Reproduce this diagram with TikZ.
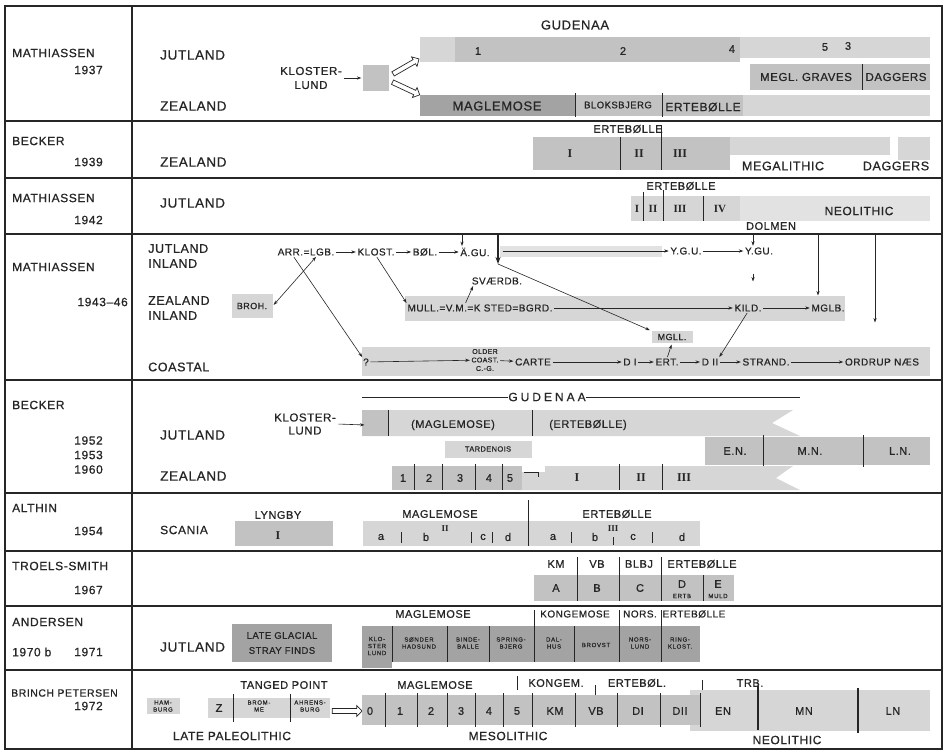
\documentclass[tikz,border=0pt]{standalone}
\usepackage{fontspec}
\usepackage{graphicx}
\setmainfont{Liberation Sans}[LetterSpace=5, FakeBold=0.7]
\newfontfamily\romf{Liberation Serif}
\usetikzlibrary{arrows.meta,calc,shapes.arrows}
\definecolor{ga}{gray}{0.84}
\definecolor{gb}{gray}{0.76}
\definecolor{gc}{gray}{0.64}
\definecolor{ink}{gray}{0.15}
\newcommand{\fsz}[2]{\fontsize{#1}{#2}\selectfont}
\tikzset{
 tx/.style={inner sep=0pt, text=ink},
 nm/.style={tx, font=\fsz{12}{14}},
 rl/.style={tx, font=\fsz{13.5}{15}},
 bl/.style={tx, font=\fsz{12}{14}},
 md/.style={tx, font=\fsz{11}{13}},
 sm/.style={tx, font=\fsz{10}{12}},
 xs/.style={tx, font=\fsz{7}{8.5}, align=center},
 tn/.style={tx, font=\fsz{6}{7}\addfontfeatures{LetterSpace=12}, align=center},
 rn/.style={tx, font=\romf\bfseries\fsz{12}{14}},
 ar/.style={-{Stealth[length=4.5pt,width=3.2pt]}, draw=ink, line width=0.6pt, shorten >=1.5pt, shorten <=1.5pt},
 bigar/.style={-{Stealth[length=7pt,width=5pt]}, draw=ink, line width=1.1pt},
 dv/.style={draw=ink, line width=1pt},
 boxline/.style={draw=ink, line width=1.3pt},
 hol/.style={single arrow, draw=ink, fill=white, line width=0.7pt, minimum height=30pt, minimum width=11pt, single arrow head extend=2.5pt, inner sep=1.6pt},
}
\begin{document}
\begin{tikzpicture}[x=1pt,y=-1pt]
\useasboundingbox (0,0) rectangle (947,752);
\fill[white] (0,0) rectangle (947,752);

% ================= Row 1: Mathiassen 1937
\fill[ga] (420,37) rectangle (455,62);
\fill[gb] (455,37) rectangle (740,62);
\fill[ga] (740,37) rectangle (930,58);
\fill[gb] (750,64) rectangle (930,90);
\fill[gc] (420,95) rectangle (575,116);
\fill[gb] (575,95) rectangle (743,116);
\fill[ga] (743,95) rectangle (930,116);
\draw[dv] (862,64) -- (862,90);
\draw[dv] (575,93) -- (575,117);
\draw[dv] (662,93) -- (662,117);
\node[nm,anchor=west] (n1) at (12,53) {MATHIASSEN};
\node[nm,anchor=east] (y1) at (103,70) {1937};
\node[rl,anchor=west] (r1a) at (160,55) {JUTLAND};
\node[rl,anchor=west] (r1b) at (160,106) {ZEALAND};
\node[md,align=center,font=\fsz{11.5}{14}] (kl1) at (311,78) {KLOSTER-\\LUND};
\node[fill=gb, minimum width=26pt, minimum height=26pt, inner sep=0pt] (klb) at (376,78) {};
\draw[ar] ($(kl1.east)+(1,0)$) -- (klb.west);
\node[hol, rotate=30] (ha1) at (405,67) {};
\node[hol, rotate=-25] (ha2) at (405,88) {};
\node[bl,font=\fsz{13}{14}] (gud1) at (575,25) {GUDENAA};
\node[md] (g1) at (478,51) {1};
\node[md] (g2) at (623,51) {2};
\node[md] (g4) at (732,49) {4};
\node[md] (g5) at (825,47) {5};
\node[md] (g3) at (848,46) {3};
\node[md,font=\fsz{11.5}{13}] (megl) at (806,77) {MEGL. GRAVES};
\node[md,font=\fsz{11.5}{13}] (dag1) at (896,77) {DAGGERS};
\node[bl,font=\fsz{13}{14}] (mag1) at (497,106) {MAGLEMOSE};
\node[sm,font=\fsz{9.5}{11}] (blok) at (618,105) {BLOKSBJERG};
\node[bl] (ert1) at (703,107) {ERTEBØLLE};

% ================= Row 2: Becker 1939
\fill[gb] (533,137) rectangle (730,170);
\fill[ga] (730,137) rectangle (890,155);
\fill[ga] (898,137) rectangle (930,160);
\draw[dv] (620,137) -- (620,170);
\draw[dv] (661,126) -- (661,170);
\node[nm,anchor=west] (n2) at (12,141) {BECKER};
\node[nm,anchor=east] (y2) at (103,162) {1939};
\node[rl,anchor=west] (r2) at (160,162) {ZEALAND};
\node[md] (ert2) at (628,129) {ERTEBØLLE};
\node[rn] (b1) at (570,154) {I};
\node[rn] (b2) at (639,154) {II};
\node[rn] (b3) at (680,154) {III};
\node[bl,font=\fsz{12.5}{14}] (mega) at (783,166) {MEGALITHIC};
\node[bl,font=\fsz{12.5}{14}] (dag2) at (896,166) {DAGGERS};

% ================= Row 3: Mathiassen 1942
\fill[ga] (631,196) rectangle (740,221);
\fill[ga!70] (740,196) rectangle (930,221);
\draw[dv] (643,192) -- (643,221);
\draw[dv] (663,190) -- (663,221);
\draw[dv] (703,196) -- (703,221);
\node[nm,anchor=west] (n3) at (12,198) {MATHIASSEN};
\node[nm,anchor=east] (y3) at (103,220) {1942};
\node[rl,anchor=west] (r3) at (160,203) {JUTLAND};
\node[md] (ert3) at (681,186) {ERTEBØLLE};
\node[rn,font=\romf\bfseries\fsz{11}{12}] (c1) at (637,209) {I};
\node[rn,font=\romf\bfseries\fsz{11}{12}] (c2) at (653,209) {II};
\node[rn,font=\romf\bfseries\fsz{11}{12}] (c3) at (680,209) {III};
\node[rn,font=\romf\bfseries\fsz{11}{12}] (c4) at (720,209) {IV};
\node[bl] (neo3) at (859,211) {NEOLITHIC};
\node[md] (dol) at (771,226) {DOLMEN};

% ================= Row 4: Mathiassen 1943-46
\node[nm,anchor=west] (n4) at (12,267) {MATHIASSEN};
\node[nm,anchor=east] (y4) at (128,302) {1943–46};
\node[rl,anchor=west,align=left,font=\fsz{12.5}{15}] (r4a) at (148,256) {JUTLAND\\INLAND};
\node[rl,anchor=west,align=left,font=\fsz{12.5}{15}] (r4b) at (148,308) {ZEALAND\\INLAND};
\node[rl,anchor=west,font=\fsz{12.5}{15}] (r4c) at (148,367) {COASTAL};
\fill[ga!70] (500,246) rectangle (662,257);
\fill[ga] (405,296) rectangle (845,321);
\fill[ga] (362,347) rectangle (930,376);
\node[fill=ga, minimum width=41pt, minimum height=24pt, inner sep=0pt, font=\fsz{9}{10}, text=ink] (broh) at (252,306) {BROH.};
\node[sm] (arr) at (306,252) {ARR.=LGB.};
\node[sm] (klost) at (376,252) {KLOST.};
\node[sm] (bol) at (425,252) {BØL.};
\node[sm] (agu) at (475,252) {Ä.GU.};
\node[sm] (ygu) at (686,251) {Y.G.U.};
\node[sm] (ygu2) at (759,251) {Y.GU.};
\draw[ar] (arr) -- (klost);
\draw[ar] (klost) -- (bol);
\draw[ar] (bol) -- (agu);
\draw[ar] (ygu) -- (ygu2);
\coordinate (t1) at (462,235);
\draw[ar,shorten <=0pt] (t1) -- (t1 |- agu.north);
\coordinate (t2) at (498,235);
\coordinate (t2e) at (498,264);
\draw[bigar] (t2) -- (t2e);
\coordinate (b1) at (501,251);
\draw[ar] (b1) -- (ygu);
\coordinate (t3) at (753,235);
\draw[ar,shorten <=0pt] (t3) -- (t3 |- ygu2.north);
\coordinate (t4) at (753,272);
\coordinate (t4e) at (753,283);
\draw[ar,line width=0.9pt] (t4) -- (t4e);
\coordinate (t5) at (818,235);
\coordinate (t5e) at (818,297);
\draw[ar,line width=1pt,shorten <=0pt] (t5) -- (t5e);
\coordinate (t6) at (875,235);
\coordinate (t6e) at (875,324);
\draw[ar,line width=1pt,shorten <=0pt] (t6) -- (t6e);
\node[sm] (mull) at (480,308) {MULL.=V.M.=K STED=BGRD.};
\node[sm] (kild) at (748,308) {KILD.};
\node[sm] (mglb) at (828,308) {MGLB.};
\node[sm] (sv) at (497,281) {SVÆRDB.};
\draw[ar] (mull) -- (kild);
\draw[ar] (kild) -- (mglb);
\draw[ar] ($(mull.north)+(-15,0)$) -- ($(sv.south west)+(2,0)$);
\draw[ar] (klost.south) -- (mull.north west);
\node[fill=ga, minimum width=41pt, minimum height=12pt, inner sep=0pt, font=\fsz{9}{10}, text=ink] (mgll) at (672,337) {MGLL.};
\draw[ar,shorten <=0pt] (t2e) -- (mgll.north west);
\draw[{Stealth[length=4.5pt,width=3.2pt]}-{Stealth[length=4.5pt,width=3.2pt]}, draw=ink, line width=0.6pt, shorten >=1.5pt, shorten <=1.5pt] (broh.east) -- ($(arr.south)+(11,0)$);
\node[sm] (q) at (366,362) {?};
\node[xs] (old) at (485,360) {OLDER\\COAST.\\C.-G.};
\node[sm] (carte) at (533,362) {CARTE};
\node[sm] (d1) at (630,362) {D I};
\node[sm] (ert) at (667,362) {ERT.};
\node[sm] (d2) at (710,362) {D II};
\node[sm] (strand) at (766,362) {STRAND.};
\node[sm] (ordrup) at (882,362) {ORDRUP NÆS};
\draw[ar] (q) -- (old);
\draw[ar] (old) -- (carte);
\draw[ar] (carte) -- (d1);
\draw[ar] (d1) -- (ert);
\draw[ar] (ert) -- (d2);
\draw[ar] (d2) -- (strand);
\draw[ar] (strand) -- (ordrup);
\draw[ar] ($(arr.south)+(-13,0)$) -- (q.north west);
\draw[ar] (ert.north) -- (mgll.south);
\draw[ar] (kild.south) -- (d2.north east);

% ================= Row 5: Becker 1952/53/60
\node[nm,anchor=west] (n5) at (12,405) {BECKER};
\node[nm,anchor=east,align=right,font=\fsz{12}{14.5}] (y5) at (103,455) {1952\\1953\\1960};
\node[rl,anchor=west] (r5a) at (160,435) {JUTLAND};
\node[rl,anchor=west] (r5b) at (160,476) {ZEALAND};
\node[md,align=center,font=\fsz{11.5}{13}] (kl2) at (305,424) {KLOSTER-\\LUND};
\fill[ga] (362,410) -- (793,410) -- (772,423) -- (800,436) -- (362,436) -- cycle;
\fill[gb] (362,410) rectangle (388,436);
\draw[dv] (388,410) -- (388,436);
\draw[dv] (532,410) -- (532,436);
\coordinate (kle) at (366,425);
\draw[ar] ($(kl2.east)+(1,0)$) -- (kle);
\coordinate (gl1) at (362,397);
\coordinate (gl2) at (800,397);
\node[bl,font=\fsz{12}{14}\addfontfeatures{LetterSpace=25}] (gud2) at (547,397) {GUDENAA};
\draw[ink,line width=0.7pt] (gl1) -- (gud2.west);
\draw[ink,line width=0.7pt] (gud2.east) -- (gl2);
\node[md] (m5) at (453,425) {(MAGLEMOSE)};
\node[md] (e5) at (588,425) {(ERTEBØLLE)};
\node[fill=ga, minimum width=87pt, minimum height=17pt, inner sep=0pt, font=\fsz{7.5}{9}, text=ink] (tard) at (488,449) {TARDENOIS};
\fill[gb] (705,437) rectangle (930,465);
\draw[dv] (763,435) -- (763,467);
\draw[dv] (863,435) -- (863,467);
\node[md] (en5) at (735,451) {E.N.};
\node[md] (mn5) at (810,451) {M.N.};
\node[md] (ln5) at (900,451) {L.N.};
\fill[ga] (515,466) -- (793,466) -- (776,478) -- (800,490) -- (515,490) -- cycle;
\fill[gb] (392,466) rectangle (522,490);
\fill[white] (522,466) rectangle (545,472);
\draw[ink,line width=0.8pt] (524,472) -- (538,472) -- (538,477);
\foreach \xx in {414,442,475,502,619,662} \draw[dv] (\xx,464) -- (\xx,490);
\node[md] (z1) at (403,478) {1};
\node[md] (z2) at (429,478) {2};
\node[md] (z3) at (460,478) {3};
\node[md] (z4) at (489,478) {4};
\node[md] (z5) at (510,478) {5};
\node[rn] (zr1) at (577,478) {I};
\node[rn] (zr2) at (641,478) {II};
\node[rn] (zr3) at (684,478) {III};

% ================= Row 6: Althin 1954
\node[nm,anchor=west] (n6) at (12,508) {ALTHIN};
\node[nm,anchor=east] (y6) at (103,531) {1954};
\node[rl,anchor=west,font=\fsz{12}{14}] (r6) at (160,530) {SCANIA};
\fill[gb] (235,521) rectangle (333,546);
\fill[ga] (363,521) rectangle (700,546);
\draw[dv] (528,500) -- (528,546);
\node[md] (lyl) at (278,515) {LYNGBY};
\node[rn] (ly1) at (278,536) {I};
\node[md] (mgl6) at (440,514) {MAGLEMOSE};
\node[md] (ert6) at (617,514) {ERTEBØLLE};
\foreach \xx in {401,471,492,571,652} \draw[ink,line width=0.7pt] (\xx,532) -- (\xx,543);
\draw[ink,line width=0.7pt] (613,537) -- (613,545);
\node[md] (a6) at (381,537) {a};
\node[md] (b6) at (426,537) {b};
\node[rn,font=\romf\bfseries\fsz{9}{10}] (s6a) at (445,529) {II};
\node[md] (c6) at (483,537) {c};
\node[md] (d6) at (508,537) {d};
\node[md] (a6b) at (553,537) {a};
\node[md] (b6b) at (595,537) {b};
\node[rn,font=\romf\bfseries\fsz{9}{10}] (s6b) at (613,529) {III};
\node[md] (c6b) at (633,537) {c};
\node[md] (d6b) at (682,537) {d};

% ================= Row 7: Troels-Smith 1967
\node[nm,anchor=west] (n7) at (12,566) {TROELS-SMITH};
\node[nm,anchor=east] (y7) at (103,590) {1967};
\fill[gb] (534,575) rectangle (734,601);
\foreach \xx in {577,619,661} \draw[dv] (\xx,557) -- (\xx,601);
\draw[dv] (703,575) -- (703,601);
\node[md] (km7) at (556,564) {KM};
\node[md] (vb7) at (597,564) {VB};
\node[md] (bl7) at (639,564) {BLBJ};
\node[md] (er7) at (702,564) {ERTEBØLLE};
\node[md] (A7) at (556,588) {A};
\node[md] (B7) at (597,588) {B};
\node[md] (C7) at (640,588) {C};
\node[md] (D7) at (682,584) {D};
\node[tn] (D7s) at (682,596) {ERTB};
\node[md] (E7) at (718,584) {E};
\node[tn] (E7s) at (718,596) {MULD};

% ================= Row 8: Andersen 1970b 1971
\node[nm,anchor=west] (n8) at (12,622) {ANDERSEN};
\node[nm,anchor=west] (y8a) at (12,652) {1970 b};
\node[nm,anchor=east] (y8b) at (103,652) {1971};
\node[rl,anchor=west] (r8) at (160,647) {JUTLAND};
\fill[gc] (232,624) rectangle (332,662);
\node[tx,align=center,font=\fsz{9.5}{15}] (lg) at (282,643) {LATE GLACIAL\\STRAY FINDS};
\fill[gc] (362,626) rectangle (392,668);
\fill[gc] (392,626) rectangle (700,662);
\foreach \xx in {392,447,489,574} \draw[dv] (\xx,626) -- (\xx,662);
\foreach \xx in {534,619,661} \draw[dv] (\xx,610) -- (\xx,662);
\node[md] (mg8) at (433,614) {MAGLEMOSE};
\node[md,font=\fsz{10}{12}] (kg8) at (575,614) {KONGEMOSE};
\node[md,font=\fsz{10}{12}] (nr8) at (640,614) {NORS.};
\node[md,font=\fsz{10}{12}] (er8) at (694,614) {ERTEBØLLE};
\node[tn] (k8) at (377,646) {KLO-\\STER\\LUND};
\node[tn] (s8) at (419,643) {SØNDER\\HADSUND};
\node[tn] (bb8) at (468,643) {BINDE-\\BALLE};
\node[tn] (sp8) at (511,643) {SPRING-\\BJERG};
\node[tn] (dh8) at (554,643) {DAL-\\HUS};
\node[tn] (br8) at (596,645) {BROVST};
\node[tn] (nl8) at (640,643) {NORS-\\LUND};
\node[tn] (rk8) at (680,643) {RING-\\KLOST.};

% ================= Row 9: Brinch Petersen 1972
\node[nm,anchor=west,font=\fsz{10.5}{12}] (n9) at (11,693) {BRINCH PETERSEN};
\node[nm,anchor=east] (y9) at (103,706) {1972};
\node[fill=ga, minimum width=33pt, minimum height=16pt, inner sep=0pt] (ham) at (163,706) {};
\node[tn] (hamt) at (163,706) {HAM-\\BURG};
\fill[ga] (208,698) rectangle (330,718);
\draw[dv] (233,694) -- (233,722);
\draw[dv] (290,694) -- (290,722);
\node[md] (zz) at (219,708) {Z};
\node[tn] (brom) at (259,706) {BROM-\\ME};
\node[tn] (ahr) at (310,706) {AHRENS-\\BURG};
\node[hol] (ha3) at (346,711) {};
\node[md] (tp) at (284,685) {TANGED POINT};
\node[md] (mg9) at (435,685) {MAGLEMOSE};
\node[md] (kg9) at (556,683) {KONGEM.};
\node[md] (er9) at (637,683) {ERTEBØL.};
\node[md] (trb) at (750,683) {TRB.};
\fill[ga] (690,690) rectangle (930,731);
\fill[gb] (362,695) rectangle (700,725);
\foreach \xx in {385,417,447,475,503,532,575,617,660,700} \draw[dv] (\xx,693) -- (\xx,727);
\draw[ink,line width=0.8pt] (517,676) -- (517,690);
\draw[ink,line width=0.8pt] (595,685) -- (595,695);
\draw[ink,line width=0.8pt] (702,680) -- (702,690);
\draw[ink,line width=1.6pt] (758,686) -- (758,730);
\draw[ink,line width=1.6pt] (858,688) -- (858,733);
\node[md] (p0) at (370,711) {0};
\node[md] (p1) at (400,711) {1};
\node[md] (p2) at (431,711) {2};
\node[md] (p3) at (461,711) {3};
\node[md] (p4) at (489,711) {4};
\node[md] (p5) at (517,711) {5};
\node[md] (pkm) at (555,711) {KM};
\node[md] (pvb) at (596,711) {VB};
\node[md] (pd1) at (638,711) {DI};
\node[md] (pd2) at (680,711) {DII};
\node[md] (pen) at (723,711) {EN};
\node[md] (pmn) at (804,711) {MN};
\node[md] (pln) at (893,711) {LN};
\node[md,font=\fsz{12}{14}] (lp) at (232,736) {LATE PALEOLITHIC};
\node[md,font=\fsz{12}{14}] (meso) at (508,736) {MESOLITHIC};
\node[md,font=\fsz{12}{14}] (neo9) at (787,740) {NEOLITHIC};

% ================= Frame
\draw[boxline] (5,6) rectangle (942,749);
\draw[boxline] (132,6) -- (132,749);
\foreach \yy in {121,178,234,380,493,551,606,670} \draw[boxline] (5,\yy) -- (942,\yy);
\end{tikzpicture}
\end{document}
